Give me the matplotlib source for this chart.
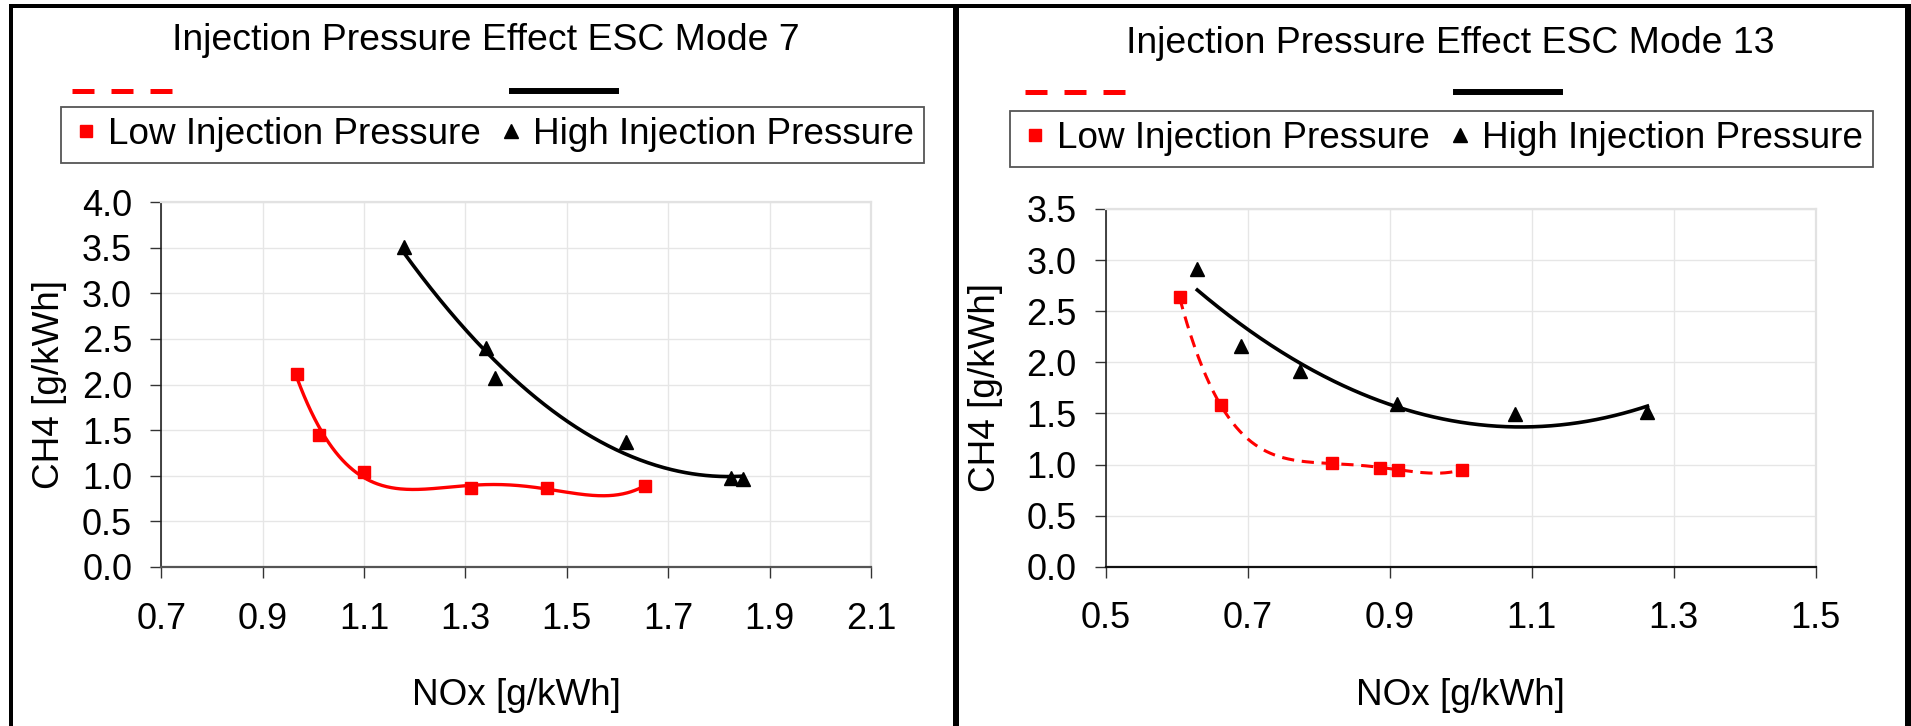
import numpy as np
import matplotlib
matplotlib.use("Agg")
import matplotlib.pyplot as plt
from matplotlib.lines import Line2D

plt.rcParams['font.family'] = ['Liberation Sans', 'DejaVu Sans']

W, H = 1911, 726

# ---- data ----
m7_low_nox = [0.968, 1.011, 1.099, 1.311, 1.461, 1.654]
m7_low_ch4 = [2.11, 1.45, 1.04, 0.87, 0.866, 0.89]
m7_high_nox = [1.178, 1.340, 1.359, 1.617, 1.824, 1.848]
m7_high_ch4 = [3.51, 2.40, 2.07, 1.37, 0.98, 0.96]

m13_low_nox = [0.604, 0.662, 0.819, 0.886, 0.912, 1.002]
m13_low_ch4 = [2.635, 1.58, 1.01, 0.97, 0.95, 0.95]
m13_high_nox = [0.629, 0.690, 0.773, 0.910, 1.076, 1.263]
m13_high_ch4 = [2.91, 2.16, 1.915, 1.59, 1.494, 1.51]

titles = ["Injection Pressure Effect ESC Mode 7", "Injection Pressure Effect ESC Mode 13"]
series_labels = ["Low Injection Pressure", "High Injection Pressure"]
xlabel = "NOx [g/kWh]"
ylabel = "CH4 [g/kWh]"
m7_xticks = [0.7, 0.9, 1.1, 1.3, 1.5, 1.7, 1.9, 2.1]
m7_yticks = [0.0, 0.5, 1.0, 1.5, 2.0, 2.5, 3.0, 3.5, 4.0]
m13_xticks = [0.5, 0.7, 0.9, 1.1, 1.3, 1.5]
m13_yticks = [0.0, 0.5, 1.0, 1.5, 2.0, 2.5, 3.0, 3.5]
# polynomial trendline orders (as in the original spreadsheet chart)
m7_orders = [4, 2]
m13_orders = [4, 2]

FS = 26.6

fig = plt.figure(figsize=(W / 100, H / 100), dpi=100)
fig.patch.set_facecolor('white')


def px_box(x0, x1, ytop, ybot):
    return [x0 / W, 1 - ybot / H, (x1 - x0) / W, (ybot - ytop) / H]


def trend(ax, x, y, order, **kw):
    p = np.polynomial.Polynomial.fit(x, y, order)
    xs = np.linspace(min(x), max(x), 300)
    ax.plot(xs, p(xs), **kw)


def style_axes(ax, xt, yt, bottom_color):
    ax.set_xlim(xt[0], xt[-1])
    ax.set_ylim(yt[0], yt[-1])
    ax.set_xticks(xt)
    ax.set_yticks(yt)
    ax.set_xticklabels([f"{v:.1f}" for v in xt])
    ax.set_yticklabels([f"{v:.1f}" for v in yt])
    ax.grid(True, color='#e6e6e6', lw=1.0)
    ax.set_axisbelow(True)
    for s in ('top', 'right'):
        ax.spines[s].set_color('#e2e2e2')
        ax.spines[s].set_linewidth(1.6)
    ax.spines['left'].set_color('#222222')
    ax.spines['left'].set_linewidth(1.2)
    ax.spines['bottom'].set_color(bottom_color)
    ax.spines['bottom'].set_linewidth(1.6)
    ax.tick_params(axis='both', direction='out', length=8, width=1.0,
                   color='#333333', labelsize=26)
    ax.tick_params(axis='x', pad=17)
    ax.tick_params(axis='y', pad=13)
    ax.set_xlabel(xlabel, fontsize=FS)
    ax.set_ylabel(ylabel, fontsize=FS)


# ---- left panel ----
ax1 = fig.add_axes(px_box(161.3, 871, 202, 567))
trend(ax1, m7_low_nox, m7_low_ch4, m7_orders[0], color='red', lw=2.4, zorder=3)
trend(ax1, m7_high_nox, m7_high_ch4, m7_orders[1], color='black', lw=2.6, zorder=3)
ax1.plot(m7_low_nox, m7_low_ch4, ls='none', marker='s', ms=8.5, color='red', zorder=4)
ax1.plot(m7_high_nox, m7_high_ch4, ls='none', marker='^', ms=10, color='black', zorder=4)
style_axes(ax1, m7_xticks, m7_yticks, '#555555')
ax1.xaxis.set_label_coords(0.5, -0.351)
ax1.xaxis.label.set_va('center')
ax1.yaxis.set_label_coords(-0.158, 0.5)
ax1.yaxis.label.set_va('center')

# ---- right panel ----
ax2 = fig.add_axes(px_box(1105.7, 1815.7, 209, 566.7))
trend(ax2, m13_low_nox, m13_low_ch4, m13_orders[0], color='red', lw=2.2,
      dashes=(4, 2.5), zorder=3)
trend(ax2, m13_high_nox, m13_high_ch4, m13_orders[1], color='black', lw=2.6, zorder=3)
ax2.plot(m13_low_nox, m13_low_ch4, ls='none', marker='s', ms=8.5, color='red', zorder=4)
ax2.plot(m13_high_nox, m13_high_ch4, ls='none', marker='^', ms=10, color='black', zorder=4)
style_axes(ax2, m13_xticks, m13_yticks, '#111111')
ax2.xaxis.set_label_coords(0.5, -0.359)
ax2.xaxis.label.set_va('center')
ax2.yaxis.set_label_coords(-0.170, 0.5)
ax2.yaxis.label.set_va('center')

# ---- titles ----
fig.text(486 / W, 1 - 50 / H, titles[0], ha='center', va='baseline', fontsize=26.9)
fig.text(1450 / W, 1 - 53 / H, titles[1], ha='center', va='baseline', fontsize=26.9)

# ---- legends ----
def add_legends(line_x, line_y, black_x, box_x, box_y):
    h_lines = [Line2D([], [], color='red', lw=3.6, dashes=(4.4, 3.4)),
               Line2D([], [], color='black', lw=4.3)]
    hl = 104 / 37
    fig.legend(handles=h_lines, labels=['', ''], ncol=2, frameon=False,
               handlelength=hl, handletextpad=0,
               columnspacing=(black_x - line_x - 104) / 37,
               borderpad=0, borderaxespad=0, loc='center left',
               bbox_to_anchor=(line_x / W, 1 - (line_y + 4) / H), fontsize=FS)
    h_marks = [Line2D([], [], ls='none', marker='s', ms=8.5, color='red'),
               Line2D([], [], ls='none', marker='^', ms=10, color='black')]
    leg = fig.legend(handles=h_marks, labels=series_labels, ncol=2,
                     loc='upper left', bbox_to_anchor=(box_x / W, 1 - box_y / H),
                     borderpad=0.28, handlelength=0.8, handletextpad=0.18,
                     columnspacing=0.43, borderaxespad=0, fancybox=False,
                     edgecolor='#555555', framealpha=1, fontsize=FS)
    leg.get_frame().set_linewidth(1.3)


add_legends(72, 90.5, 513, 61, 107)
add_legends(1025, 91.7, 1457, 1010, 111)

# ---- panel borders ----
def fline(xs, ys, lw):
    fig.add_artist(Line2D([x / W for x in xs], [1 - y / H for y in ys],
                          transform=fig.transFigure, color='black', lw=lw,
                          solid_capstyle='butt'))


fline([9.3, W], [6, 6], 4 * 0.72)
fline([11.3, 11.3], [4, H], 4 * 0.72)
fline([956, 956], [4, H], 6 * 0.72)
fline([1907.5, 1907.5], [4, H], 7 * 0.72)

fig.savefig("out.png", dpi=100, facecolor='white')
